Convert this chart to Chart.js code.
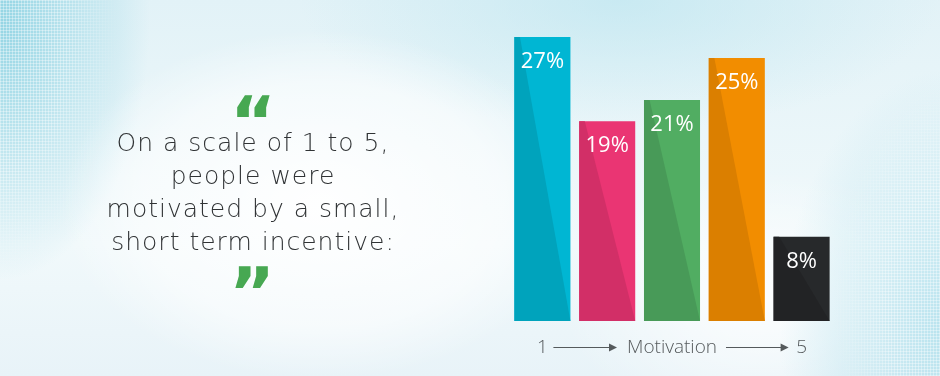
<!DOCTYPE html>
<html>
<head>
<meta charset="utf-8">
<script src="https://cdn.jsdelivr.net/npm/chart.js@4.4.1/dist/chart.umd.min.js"></script>
<style>
  html, body { margin:0; padding:0; width:940px; height:376px; overflow:hidden; }
  body {
    position: relative;
    background:
      radial-gradient(ellipse 260px 175px at 320px 205px, rgba(255,255,255,0.97), rgba(255,255,255,0.55) 70%, rgba(255,255,255,0) 100%),
      radial-gradient(ellipse 150px 260px at 0px 20px, rgba(140,210,226,0.9), rgba(150,215,230,0) 100%),
      radial-gradient(ellipse 170px 260px at 950px 330px, rgba(165,220,234,0.75), rgba(165,220,234,0) 100%),
      radial-gradient(ellipse 320px 130px at 620px 0px, rgba(190,230,240,0.7), rgba(190,230,240,0) 100%),
      radial-gradient(ellipse 200px 130px at 760px 300px, rgba(255,255,255,0.85), rgba(255,255,255,0) 100%),
      linear-gradient(180deg, #e2f2f7 0%, #f1f9fb 65%, #e8f3f8 100%);
  }
  #dots {
    position:absolute; left:0; top:0; width:940px; height:376px;
    background:
      repeating-linear-gradient(90deg, rgba(255,255,255,0.35) 0 1px, transparent 1px 3px),
      repeating-linear-gradient(0deg, rgba(255,255,255,0.35) 0 1px, transparent 1px 3px);
    -webkit-mask-image:
      radial-gradient(ellipse 120px 240px at 0px 40px, #000 55%, transparent 100%),
      radial-gradient(ellipse 110px 220px at 940px 300px, #000 50%, transparent 100%);
    mask-image:
      radial-gradient(ellipse 120px 240px at 0px 40px, #000 55%, transparent 100%),
      radial-gradient(ellipse 110px 220px at 940px 300px, #000 50%, transparent 100%);
  }
  canvas { position:absolute; left:0; top:0; }
</style>
</head>
<body>
<div id="dots"></div>
<canvas id="c" width="940" height="376"></canvas>
<script>
// ---- data ----
const categories = ['1', '2', '3', '4', '5'];
const values = [27, 19, 21, 25, 8];
const valueLabels = ['27%', '19%', '21%', '25%', '8%'];
const axisStartLabel = '1';
const axisEndLabel = '5';
const axisTitle = 'Motivation';
const quoteLines = ['On a scale of 1 to 5,', 'people were', 'motivated by a small,', 'short term incentive:'];

// ---- styles ----
const barColors = ['#00b6d3', '#ea3573', '#51ad62', '#f28d00', '#27292b'];
const shadeColors = ['#00a3bc', '#d22f67', '#489a58', '#db7f00', '#222325'];

const decoPlugin = {
  id: 'deco',
  afterDatasetsDraw(chart) {
    const ctx = chart.ctx;
    const meta = chart.getDatasetMeta(0);
    ctx.save();
    meta.data.forEach((bar, i) => {
      const p = bar.getProps(['x', 'y', 'base', 'width'], true);
      const l = p.x - p.width / 2, r = p.x + p.width / 2;
      ctx.fillStyle = shadeColors[i];
      ctx.beginPath();
      ctx.moveTo(l, p.y);
      ctx.lineTo(l + p.width * 0.1, p.y);
      ctx.lineTo(r, p.base);
      ctx.lineTo(l, p.base);
      ctx.closePath();
      ctx.fill();
      ctx.fillStyle = '#ffffff';
      ctx.font = '400 22px "Open Sans"';
      ctx.textAlign = 'center';
      ctx.textBaseline = 'alphabetic';
      ctx.fillText(valueLabels[i], p.x, p.y + 31);
    });
    ctx.restore();
  },
  afterDraw(chart) {
    const ctx = chart.ctx;
    const xs = chart.scales.x;
    const area = chart.chartArea;
    ctx.save();
    const y = area.bottom + 32;
    const x1 = xs.getPixelForValue(0);
    const x5 = xs.getPixelForValue(categories.length - 1);
    const xm = (area.left + area.right) / 2;
    ctx.fillStyle = '#555a5c';
    ctx.strokeStyle = '#555a5c';
    ctx.font = '300 19px "Open Sans"';
    ctx.textBaseline = 'alphabetic';
    ctx.textAlign = 'center';
    ctx.fillText(axisStartLabel, x1, y);
    ctx.fillText(axisEndLabel, x5, y);
    ctx.fillText(axisTitle, xm, y);
    const mw = ctx.measureText(axisTitle).width;
    const arrow = (a, b) => {
      const ay = y - 6;
      ctx.lineWidth = 1;
      ctx.beginPath();
      ctx.moveTo(a, ay + 0.5);
      ctx.lineTo(b - 7, ay + 0.5);
      ctx.stroke();
      ctx.beginPath();
      ctx.moveTo(b, ay + 0.5);
      ctx.lineTo(b - 8, ay - 3.5);
      ctx.lineTo(b - 8, ay + 4.5);
      ctx.closePath();
      ctx.fill();
    };
    arrow(x1 + 11, xm - mw / 2 - 10);
    arrow(xm + mw / 2 + 9, x5 - 13);

    // quote
    ctx.fillStyle = '#47a852';
    ctx.font = 'bold 70px "DejaVu Sans"';
    ctx.textAlign = 'center';
    ctx.fillText('\u201C', 253, 146);
    ctx.fillText('\u201D', 252, 317);
    ctx.fillStyle = '#303335';
    ctx.font = '200 25px "DejaVu Sans"';
    ctx.letterSpacing = '1px';
    quoteLines.forEach((t, i) => ctx.fillText(t, 253, 151 + i * 33));
    ctx.letterSpacing = '0px';
    ctx.restore();
  }
};

new Chart(document.getElementById('c'), {
  type: 'bar',
  data: {
    labels: categories,
    datasets: [{
      data: values,
      backgroundColor: barColors,
      borderWidth: 0,
      barPercentage: 0.865,
      categoryPercentage: 1.0
    }]
  },
  options: {
    responsive: false,
    animation: false,
    devicePixelRatio: 1,
    layout: { padding: { left: 510, right: 106, top: 37, bottom: 55 } },
    plugins: { legend: { display: false }, tooltip: { enabled: false } },
    scales: {
      x: { display: false },
      y: { display: false, min: 0, max: 27 }
    }
  },
  plugins: [decoPlugin]
});
</script>
</body>
</html>
